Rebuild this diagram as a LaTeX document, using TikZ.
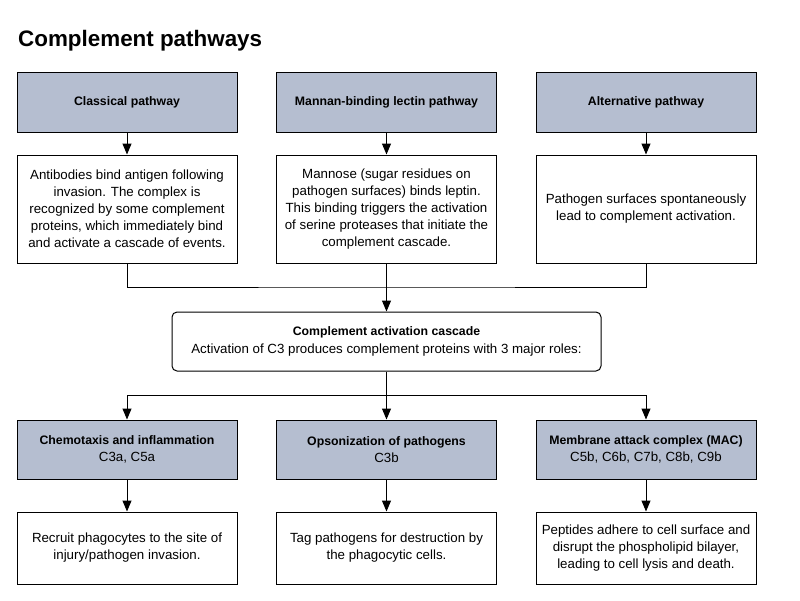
\documentclass[tikz,border=0pt]{standalone}
\usepackage{fontspec}
\setmainfont{Liberation Sans}
\usetikzlibrary{arrows.meta}
\definecolor{headblue}{RGB}{181,190,208}
\newcommand\hd[1]{{\fontsize{12.3}{17}\selectfont\bfseries #1}}
\tikzset{
	boxfont/.style={font=\fontsize{13.3}{17}\selectfont},
	headbox/.style={draw, line width=1pt, fill=headblue, minimum width=220pt, minimum height=60pt, align=center, inner sep=0pt, boxfont},
	textbox/.style={draw, line width=1pt, fill=white, minimum width=220pt, align=center, inner sep=0pt, boxfont},
	flow/.style={line width=1pt, -{Triangle[width=9pt,length=11pt]}},
	link/.style={line width=1pt}
}

\begin{document}
\begin{tikzpicture}[x=1pt, y=-1pt]
			%%%%% START %%%%%
			
			\useasboundingbox[fill=white] (0, 0) rectangle (800, 600);
			
			\node[anchor=base west, font=\fontsize{22.4}{26}\selectfont\bfseries, inner sep=0pt] (title) at (18, 46) {Complement pathways};
			
			% pathways
			\node[headbox] (cl-head) at (127, 102) {\hd{Classical pathway}};
			\node[headbox] (mbl-head) at (386.5, 102) {\hd{Mannan-binding lectin pathway}};
			\node[headbox] (alt-head) at (646, 102) {\hd{Alternative pathway}};
			
			\node[textbox, minimum height=108pt] (cl-desc) at (127, 209) {Antibodies bind antigen following\\invasion. The complex is\\recognized by some complement\\proteins, which immediately bind\\and activate a cascade of events.};
			\node[textbox, minimum height=108pt] (mbl-desc) at (386.5, 209) {Mannose (sugar residues on\\pathogen surfaces) binds leptin.\\This binding triggers the activation\\of serine proteases that initiate the\\complement cascade.};
			\node[textbox, minimum height=108pt] (alt-desc) at (646, 209) {Pathogen surfaces spontaneously\\lead to complement activation.};
			
			\draw[flow] (cl-head.south) -- (cl-desc.north);
			\draw[flow] (mbl-head.south) -- (mbl-desc.north);
			\draw[flow] (alt-head.south) -- (alt-desc.north);
			
			% cascade
			\coordinate (join) at (386.5, 287);
			\node[draw, line width=1pt, rounded corners=5pt, minimum width=429pt, minimum height=59pt, align=center, inner sep=0pt, font=\fontsize{13.3}{18}\selectfont] (casc) at (386.5, 341.5) {\hd{Complement activation cascade}\\Activation of C3 produces complement proteins with 3 major roles:};
			
			\draw[link] (cl-desc.south) |- (join) -| (alt-desc.south);
			\draw[flow] (mbl-desc.south) -- (casc.north);
			
			% roles
			\node[headbox, minimum height=59pt] (chemo) at (127, 449.5) {\hd{Chemotaxis and inflammation}\\C3a, C5a};
			\node[headbox, minimum height=59pt] (opso) at (386.5, 449.5) {\hd{Opsonization of pathogens}\\C3b};
			\node[headbox, minimum height=59pt] (mac) at (646, 449.5) {\hd{Membrane attack complex (MAC)}\\C5b, C6b, C7b, C8b, C9b};
			
			\coordinate (split) at (386.5, 395);
			\draw[link] (casc.south) -- (split);
			\draw[flow] (split) -| (chemo.north);
			\draw[flow] (split) -- (opso.north);
			\draw[flow] (split) -| (mac.north);
			
			\node[textbox, minimum height=72pt] (chemo-desc) at (127, 548) {Recruit phagocytes to the site of\\injury/pathogen invasion.};
			\node[textbox, minimum height=72pt] (opso-desc) at (386.5, 548) {Tag pathogens for destruction by\\the phagocytic cells.};
			\node[textbox, minimum height=72pt] (mac-desc) at (646, 548) {Peptides adhere to cell surface and\\disrupt the phospholipid bilayer,\\leading to cell lysis and death.};
			
			\draw[flow] (chemo.south) -- (chemo-desc.north);
			\draw[flow] (opso.south) -- (opso-desc.north);
			\draw[flow] (mac.south) -- (mac-desc.north);
			
			%%%%% END %%%%%
\end{tikzpicture}
\end{document}
